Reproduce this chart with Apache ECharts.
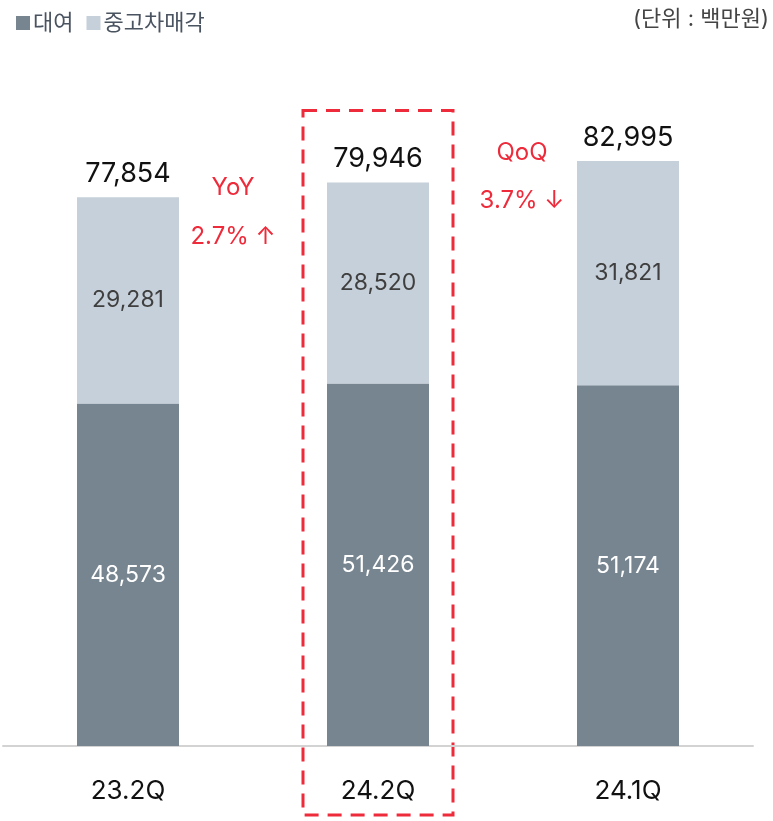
<!DOCTYPE html>
<html>
<head>
  <meta charset="utf-8">
  <title>대여 / 중고차매각</title>
  <script src="https://cdn.jsdelivr.net/npm/echarts/dist/echarts.min.js"></script>
  <style>
    html, body { margin: 0; padding: 0; background: #fff; }
    #main { width: 773px; height: 821px; }
  </style>
</head>
<body>
<div id="main"></div>

<script>
  // 단위: 백만원
  const categories = ['23.2Q', '24.2Q', '24.1Q'];
  const rental = [48573, 51426, 51174];
  const usedCarSales = [29281, 28520, 31821];
  const totals = [77854, 79946, 82995];

  const FONT = 'Inter, "Noto Sans CJK KR", sans-serif';
  const RED = '#ee2b3b';

  var myChart = echarts.init(document.getElementById('main'));

  var option = {
    animation: false,
    textStyle: { fontFamily: FONT },
    legend: {
      left: 11,
      top: 7,
      itemWidth: 14,
      itemHeight: 14,
      itemGap: 13,
      icon: 'rect',
      textStyle: { fontSize: 22, color: '#4a5360', fontFamily: FONT, padding: [0, 0, 0, -2] },
      data: ['대여', '중고차매각']
    },
    grid: {
      left: 3,
      right: 20,
      top: 41,
      bottom: 75
    },
    xAxis: {
      type: 'category',
      data: categories,
      axisLine: { lineStyle: { color: '#d3d3d3', width: 2 } },
      axisTick: { show: false },
      axisLabel: { fontSize: 26, color: '#111', margin: 32, fontFamily: FONT }
    },
    yAxis: {
      type: 'value',
      min: 0,
      max: 100000,
      show: false,
      splitLine: { show: false }
    },
    series: [
      {
        name: '대여',
        type: 'bar',
        stack: 'total',
        barWidth: 102,
        itemStyle: { color: '#778591' },
        label: {
          show: true,
          position: 'inside',
          color: '#fff',
          fontSize: 23,
          fontFamily: FONT,
          formatter: p => p.value.toLocaleString('en-US')
        },
        data: rental
      },
      {
        name: '중고차매각',
        type: 'bar',
        stack: 'total',
        barWidth: 102,
        itemStyle: { color: '#c6d0da' },
        label: {
          show: true,
          position: 'inside',
          color: '#3f3f3f',
          fontSize: 23,
          fontFamily: FONT,
          formatter: p => p.value.toLocaleString('en-US')
        },
        data: usedCarSales
      },
      {
        // 합계 라벨용 투명 시리즈
        name: '합계',
        type: 'bar',
        stack: 'total',
        barWidth: 102,
        itemStyle: { color: 'transparent' },
        silent: true,
        label: {
          show: true,
          position: 'insideBottom',
          distance: 10,
          color: '#111',
          fontSize: 27,
          fontFamily: FONT,
          formatter: p => totals[p.dataIndex].toLocaleString('en-US')
        },
        data: totals.map(() => 0.0001)
      }
    ]
  };

  myChart.setOption(option);

  // 주석 위치는 축 기준으로 계산
  const px = (i, v) => myChart.convertToPixel({ seriesIndex: 0 }, [i, v]);
  const c0 = px(0, 0), c1 = px(1, 0), c2 = px(2, 0);
  const boxTop = px(1, totals[1])[1] - 72;

  myChart.setOption({
    graphic: [
      {
        type: 'text',
        right: 4,
        top: 8,
        style: { text: '(단위 : 백만원)', fontSize: 22, fill: '#444', fontFamily: FONT }
      },
      {
        type: 'rect',
        shape: { x: c1[0] - 75, y: boxTop, width: 150, height: 815 - boxTop },
        style: { fill: 'none', stroke: RED, lineWidth: 3, lineDash: [14, 9] }
      },
      {
        type: 'text',
        x: (c0[0] + c1[0]) / 2 - 20,
        y: px(0, totals[0])[1] - 9,
        style: { text: 'YoY', fontSize: 24, fill: RED, fontFamily: FONT, align: 'center', verticalAlign: 'middle' }
      },
      {
        type: 'text',
        x: (c0[0] + c1[0]) / 2 - 20,
        y: px(0, totals[0])[1] + 40,
        style: { text: '2.7% ↑', fontSize: 24, fill: RED, fontFamily: FONT, align: 'center', verticalAlign: 'middle' }
      },
      {
        type: 'text',
        x: (c1[0] + c2[0]) / 2 + 19,
        y: px(2, totals[2])[1] - 8,
        style: { text: 'QoQ', fontSize: 24, fill: RED, fontFamily: FONT, align: 'center', verticalAlign: 'middle' }
      },
      {
        type: 'text',
        x: (c1[0] + c2[0]) / 2 + 19,
        y: px(2, totals[2])[1] + 40,
        style: { text: '3.7% ↓', fontSize: 24, fill: RED, fontFamily: FONT, align: 'center', verticalAlign: 'middle' }
      }
    ]
  });
</script>
</body>
</html>
